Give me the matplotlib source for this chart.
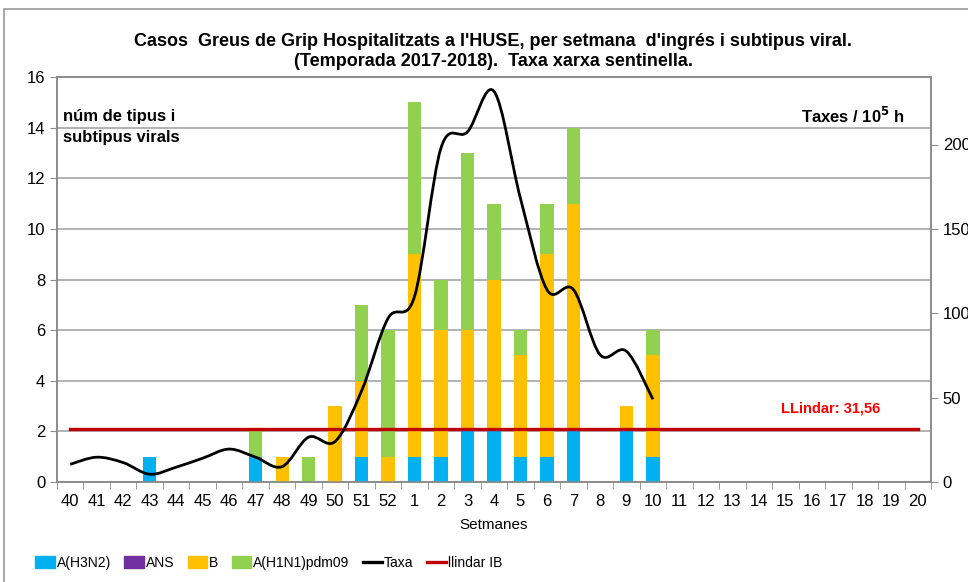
"""Stacked bars of severe flu cases per week with the sentinel rate line"""

import matplotlib
matplotlib.use('Agg')
import matplotlib.pyplot as plt
from matplotlib.path import Path
from matplotlib.patches import PathPatch, Patch, Rectangle
from matplotlib.lines import Line2D
import numpy as np

# week labels of the season
weeks = ['40', '41', '42', '43', '44', '45', '46', '47', '48', '49', '50', '51', '52',
         '1', '2', '3', '4', '5', '6', '7', '8', '9', '10', '11', '12', '13', '14',
         '15', '16', '17', '18', '19', '20']

# cases per subtype
h3n2 = [0, 0, 0, 1, 0, 0, 0, 1, 0, 0, 0, 1, 0, 1, 1, 2, 2, 1, 1, 2, 0, 2, 1,
        0, 0, 0, 0, 0, 0, 0, 0, 0, 0]
ans = [0] * 33
fluB = [0, 0, 0, 0, 0, 0, 0, 0, 1, 0, 3, 3, 1, 8, 5, 4, 6, 4, 8, 9, 0, 1, 4,
        0, 0, 0, 0, 0, 0, 0, 0, 0, 0]
h1n1 = [0, 0, 0, 0, 0, 0, 0, 1, 0, 1, 0, 3, 5, 6, 2, 7, 3, 1, 2, 3, 0, 0, 1,
        0, 0, 0, 0, 0, 0, 0, 0, 0, 0]

# sentinel network rate (per 10^5 inhabitants), weeks 40 to 10
taxa = [10.5, 14.7, 11.5, 4.6, 8.8, 14.1, 19.5, 14.7, 9.1, 26.6, 24.0, 54.0, 97.0,
        110.0, 198.0, 207.5, 231.5, 168.0, 114.0, 114.0, 75.5, 77.5, 49.0]
llindar = 31.56

# colours
cH3 = '#00B0F0'
cANS = '#7030A0'
cB = '#FFC000'
cH1 = '#92D050'

fam = ['Liberation Sans', 'DejaVu Sans']
plt.rcParams['font.family'] = fam

fig = plt.figure(figsize=(9.68, 5.82), dpi=100)
# outer chart border
fig.patches.append(Rectangle((4 / 968, -0.1), 1.2, 1 - 9 / 582 + 0.1, transform=fig.transFigure,
                             fill=False, edgecolor='#9a9a9a', lw=1.2))

ax = fig.add_axes([57 / 968, 1 - 482 / 582, (931 - 57) / 968, (482 - 77) / 582])
ax2 = ax.twinx()

x = np.arange(len(weeks))
a = np.array(h3n2)
b = np.array(ans)
c = np.array(fluB)
d = np.array(h1n1)

w = 0.5
ax.bar(x, a, w, color=cH3, zorder=3)
ax.bar(x, b, w, bottom=a, color=cANS, zorder=3)
ax.bar(x, c, w, bottom=a + b, color=cB, zorder=3)
ax.bar(x, d, w, bottom=a + b + c, color=cH1, zorder=3)

ax.set_xlim(-0.5, len(weeks) - 0.5)
ax.set_ylim(0, 16)
ax.set_yticks(range(0, 17, 2))
ax.yaxis.grid(True, color='#a6a6a6', lw=1.2, zorder=0)
ax.set_axisbelow(True)
ax.set_xticks(x)
ax.set_xticklabels(weeks)
ax.set_xticks(np.arange(-0.5, len(weeks), 1), minor=True)
ax.tick_params(axis='x', which='major', length=0, labelsize=12, pad=9)
ax.tick_params(axis='x', which='minor', length=5, color='#8c8c8c')
ax.tick_params(axis='y', length=5, color='#8c8c8c', labelsize=12)
for s in ax.spines.values():
    s.set_color('#8c8c8c')
    s.set_linewidth(1.2)
ax.set_xlabel('Setmanes', fontsize=11, labelpad=6)

# right axis: rate
ax2.set_ylim(0, 240)
ax2.set_yticks([0, 50, 100, 150, 200])
ax2.tick_params(axis='y', length=5, color='#8c8c8c', labelsize=12)
for s in ax2.spines.values():
    s.set_color('#8c8c8c')
    s.set_linewidth(1.2)

# threshold line
ax2.plot(x, [llindar] * len(x), color='#C00000', lw=2.4, zorder=4)

# smoothed rate line (bezier through the weekly points)
px = x[:len(taxa)].astype(float)
py = np.array(taxa)
verts = [(px[0], py[0])]
codes = [Path.MOVETO]
n = len(px)
for i in range(n - 1):
    p0 = (px[max(i - 1, 0)], py[max(i - 1, 0)])
    p1 = (px[i], py[i])
    p2 = (px[i + 1], py[i + 1])
    p3 = (px[min(i + 2, n - 1)], py[min(i + 2, n - 1)])
    c1 = (p1[0] + (p2[0] - p0[0]) / 6, p1[1] + (p2[1] - p0[1]) / 6)
    c2 = (p2[0] - (p3[0] - p1[0]) / 6, p2[1] - (p3[1] - p1[1]) / 6)
    verts += [c1, c2, p2]
    codes += [Path.CURVE4] * 3
ax2.add_patch(PathPatch(Path(verts, codes), fill=False, edgecolor='black', lw=2.0, zorder=5))

# annotations
ax.text(0.007, 0.92, 'núm de tipus i\nsubtipus virals', transform=ax.transAxes,
        fontsize=12, fontweight='bold', va='top', ha='left', linespacing=1.5)
ax.text(0.97, 0.905, 'Taxes / 10$^{\\mathbf{5}}$ h', transform=ax.transAxes,
        fontsize=12, fontweight='bold', va='center', ha='right')
ax2.text(30.6, 43.4, 'LLindar: 31,56', color='#FF0000', fontsize=10.5,
         fontweight='bold', ha='right', va='center')

fig.text(493 / 968, 1 - 42 / 582, "Casos  Greus de Grip Hospitalitzats a l'HUSE, per setmana  d'ingrés i subtipus viral.",
         ha='center', va='center', fontsize=13, fontweight='bold')
fig.text(493 / 968, 1 - 61 / 582, "(Temporada 2017-2018).  Taxa xarxa sentinella.",
         ha='center', va='center', fontsize=13, fontweight='bold')

handles = [Patch(color=cH3, label='A(H3N2)'),
           Patch(color=cANS, label='ANS'),
           Patch(color=cB, label='B'),
           Patch(color=cH1, label='A(H1N1)pdm09'),
           Line2D([], [], color='black', lw=2.4, label='Taxa'),
           Line2D([], [], color='#C00000', lw=2.4, label='llindar IB')]
fig.legend(handles=handles, loc='center', bbox_to_anchor=(269 / 968, 1 - 563 / 582), ncol=6,
           frameon=False, prop={'size': 10}, handlelength=1.4,
           handletextpad=0.15, columnspacing=0.95, handleheight=0.9)

fig.savefig('out.png', dpi=100)
